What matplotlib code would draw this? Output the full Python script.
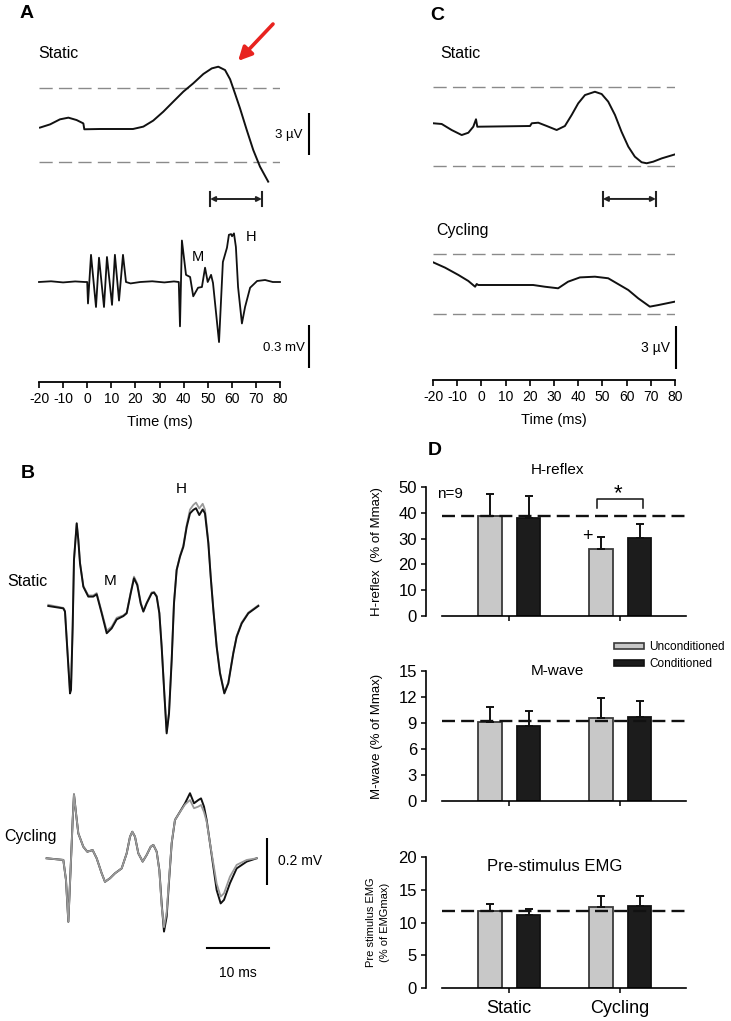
import numpy as np
import matplotlib
matplotlib.use("Agg")
import matplotlib.pyplot as plt
from matplotlib.patches import Patch

plt.rcParams['font.family'] = ['Liberation Sans', 'DejaVu Sans']
plt.rcParams['axes.unicode_minus'] = False

# ------------------------------------------------------------
# Data
# ------------------------------------------------------------
# A - static MEP (uV)
a_mep_t = [-19.6, -15.4, -11.3, -7.8, -4.4, -1.6, -1.2, 5.3, 12.2, 19.0, 23.3, 27.4, 31.6,
           35.7, 39.9, 44.0, 48.2, 51.7, 54.4, 57.2, 59.3, 61.3, 63.4, 66.2, 68.9, 71.7, 75.1]
a_mep_uv = [0.1, 0.33, 0.69, 0.81, 0.64, 0.4, -0.02, 0.0, 0.0, 0.0, 0.17, 0.6, 1.24,
            1.95, 2.67, 3.26, 3.93, 4.33, 4.45, 4.21, 3.55, 2.55, 1.48, -0.07, -1.5, -2.69, -3.76]
a_mep_band = [2.9, -2.38]

# A - soleus EMG (mV)
a_emg_t = [-20, -15, -10, -5, -1, 0.0, 0.33, 1.58, 3.65, 4.9, 6.97, 8.2, 10.3, 11.5, 13.2,
           14.85, 16.1, 18, 22, 27, 32, 36, 38.0, 38.5, 39.3, 41.0, 42.7, 44.0, 46.0, 47.6,
           48.9, 50.0, 51.4, 52.2, 54.7, 56.3, 58.0, 58.8, 59.7, 60.1, 60.9, 61.7, 62.6,
           64.2, 65.5, 67.6, 70.5, 73.8, 77, 80]
a_emg_mv = [0, 0.005, -0.003, 0.004, 0, 0, -0.15, 0.19, -0.175, 0.17, -0.175, 0.175, -0.16, 0.19, -0.13,
            0.19, 0.0, -0.01, 0.0, 0.005, -0.003, 0.004, 0.0, -0.31, 0.29, 0.05, 0.035, -0.10, -0.04, -0.035,
            0.10, 0.0, 0.05, -0.007, -0.42, 0.14, 0.24, 0.33, 0.335, 0.32, 0.34, 0.245, -0.035,
            -0.29, -0.175, -0.04, 0.007, 0.014, 0.0, 0.0]

# B - averaged H-reflex traces (mV), black = conditioned, gray = unconditioned
b_static_t = [0.05, 2.47, 2.74, 3.55, 3.71, 3.98, 4.19, 4.63, 4.89, 5.16, 5.7, 6.5, 7.3, 7.85,
              8.66, 9.47, 10.27, 11.08, 12.15, 12.69, 13.34, 13.87, 14.4, 14.95, 15.38, 15.91,
              16.72, 17.1, 17.53, 17.96, 18.33, 18.76, 19.14, 19.52, 19.95, 20.32, 20.75, 21.29,
              21.83, 22.37, 22.9, 23.44, 23.87, 24.4, 24.95, 25.32, 25.86, 26.24, 26.67, 27.2,
              27.74, 28.44, 29.08, 29.89, 30.43, 31.24, 32.31, 33.92]
b_static_black = [0.0, -0.01, -0.024, -0.372, -0.357, -0.088, 0.196, 0.352, 0.281, 0.182, 0.082, 0.04, 0.04, 0.05,
                  -0.031, -0.116, -0.095, -0.057, -0.043, -0.031, 0.054, 0.118, 0.089, 0.011, -0.024, 0.011,
                  0.054, 0.057, 0.04, -0.031, -0.173, -0.372, -0.542, -0.457, -0.23, 0.011, 0.153, 0.21,
                  0.252, 0.337, 0.394, 0.409, 0.416, 0.387, 0.411, 0.394, 0.267, 0.125, -0.017, -0.173,
                  -0.286, -0.372, -0.329, -0.201, -0.131, -0.074, -0.031, 0.0]
b_static_gray = [0.005, -0.008, -0.02, -0.365, -0.35, -0.085, 0.196, 0.35, 0.283, 0.185, 0.085, 0.045, 0.045, 0.055,
                 -0.025, -0.105, -0.088, -0.05, -0.04, -0.028, 0.058, 0.125, 0.095, 0.015, -0.02, 0.014,
                 0.058, 0.06, 0.043, -0.028, -0.17, -0.368, -0.535, -0.452, -0.225, 0.015, 0.155, 0.214,
                 0.258, 0.345, 0.41, 0.43, 0.44, 0.415, 0.435, 0.41, 0.275, 0.128, -0.015, -0.17,
                 -0.282, -0.368, -0.326, -0.198, -0.128, -0.07, -0.028, 0.003]

b_cyc_t = [-0.22, 2.47, 2.9, 3.28, 3.71, 3.98, 4.19, 4.52, 4.89, 5.7, 6.34, 7.2, 7.85, 8.66, 9.19,
           10.0, 10.8, 11.88, 12.69, 13.23, 13.6, 14.03, 14.57, 15.27, 15.91, 16.56, 16.99, 17.53,
           17.96, 18.33, 18.71, 19.14, 19.57, 19.95, 20.48, 21.29, 22.1, 22.9, 23.55, 24.25, 24.68,
           25.16, 25.59, 26.13, 26.67, 27.2, 27.85, 28.39, 29.35, 30.43, 32.05, 33.66]
b_cyc_black = [0.003, -0.004, -0.089, -0.267, -0.004, 0.166, 0.275, 0.194, 0.109, 0.052, 0.031, 0.038, 0.003, -0.061, -0.097,
               -0.082, -0.061, -0.04, 0.024, 0.095, 0.116, 0.095, 0.024, -0.011, 0.017, 0.052, 0.06, 0.031,
               -0.047, -0.189, -0.309, -0.245, -0.075, 0.067, 0.166, 0.201, 0.237, 0.28, 0.237, 0.251, 0.258,
               0.223, 0.166, 0.067, -0.033, -0.132, -0.189, -0.174, -0.103, -0.04, -0.011, 0.003]
b_cyc_gray = [0.003, -0.004, -0.089, -0.267, -0.004, 0.166, 0.275, 0.194, 0.109, 0.052, 0.031, 0.038, 0.003, -0.061, -0.097,
              -0.082, -0.061, -0.04, 0.024, 0.095, 0.116, 0.095, 0.024, -0.011, 0.017, 0.052, 0.06, 0.031,
              -0.05, -0.2, -0.29, -0.225, -0.068, 0.07, 0.166, 0.2, 0.232, 0.251, 0.216, 0.223, 0.23,
              0.2, 0.159, 0.067, -0.019, -0.104, -0.16, -0.146, -0.075, -0.025, -0.004, 0.003]

# C - MEPs (uV)
c_static_t = [-19.9, -16.4, -12.3, -8.14, -5.4, -3.35, -2.23, -1.7, 20.1, 20.8, 23.5, 27.0, 31.1,
              34.5, 37.3, 40.0, 42.8, 46.9, 49.7, 52.4, 55.2, 57.9, 60.7, 63.4, 66.2, 68.3, 71.0, 74.5, 80.0]
c_static_uv = [0.19, 0.14, -0.28, -0.63, -0.47, -0.05, 0.47, -0.05, 0.0, 0.19, 0.23, 0.0, -0.28,
               0.0, 0.77, 1.58, 2.16, 2.39, 2.23, 1.7, 0.77, -0.4, -1.44, -2.14, -2.53, -2.6, -2.49, -2.26, -1.98]
c_static_band = [2.72, -2.79]

c_cyc_t = [-19.9, -15.0, -9.5, -5.4, -2.6, -1.94, -1.3, 21.4, 26.2, 31.7, 35.8, 40.7, 46.9, 52.4,
           60.7, 64.8, 69.6, 73.1, 80.0]
c_cyc_uv = [1.58, 1.21, 0.7, 0.28, -0.12, 0.07, 0.0, 0.0, -0.12, -0.23, 0.23, 0.53, 0.58, 0.47,
            -0.35, -0.93, -1.51, -1.4, -1.16]
c_cyc_band = [2.16, -2.05]

# D - group means and SEM
conditions = ["Static", "Cycling"]
series = ["Unconditioned", "Conditioned"]
h_mean = {"Unconditioned": [38.8, 26.0], "Conditioned": [38.0, 30.2]}
h_err = {"Unconditioned": [8.5, 4.6], "Conditioned": [8.5, 5.5]}
m_mean = {"Unconditioned": [9.1, 9.6], "Conditioned": [8.65, 9.7]}
m_err = {"Unconditioned": [1.7, 2.3], "Conditioned": [1.75, 1.8]}
emg_mean = {"Unconditioned": [11.8, 12.4], "Conditioned": [11.1, 12.5]}
emg_err = {"Unconditioned": [1.0, 1.7], "Conditioned": [0.9, 1.5]}
h_ref, m_ref, emg_ref = 38.8, 9.2, 11.8

# ------------------------------------------------------------
# Figure helpers (pixel layout)
# ------------------------------------------------------------
W, H = 731, 1021
fig = plt.figure(figsize=(W / 100, H / 100), dpi=100)


def px_axes(left, right, top, bottom):
    return fig.add_axes([left / W, 1 - bottom / H, (right - left) / W, (bottom - top) / H])


def ftext(x, y, s, **kw):
    fig.text(x / W, 1 - y / H, s, **kw)


def ylim_px(base, scale, top, bottom):
    return ((base - bottom) / scale, (base - top) / scale)


def time_axis(ax):
    for side in ("top", "right", "left"):
        ax.spines[side].set_visible(False)
    ax.spines["bottom"].set_linewidth(1.3)
    ax.set_yticks([])
    ax.set_xticks(np.arange(-20, 81, 10))
    ax.tick_params(axis="x", length=4, width=1.2, labelsize=10, pad=3, direction="out")
    ax.set_xlabel("Time (ms)", fontsize=10.5, labelpad=7)
    ax.patch.set_visible(False)


def interval(ax, t0, t1, y):
    ax.annotate("", xy=(t0, y), xytext=(t1, y),
                arrowprops=dict(arrowstyle="<|-|>", color="#222222", lw=1.4, mutation_scale=7,
                                shrinkA=0, shrinkB=0), annotation_clip=False)
    for t in (t0, t1):
        ax.plot([t, t], [y - 0.5, y + 0.5], color="#222222", lw=1.5, clip_on=False)


def vbar(ax, x, y0, y1):
    ax.plot([x, x], [y0, y1], color="black", lw=1.5, clip_on=False, solid_capstyle="butt")


grey_dash = dict(color="#8a8a8a", lw=1.0, linestyle=(0, (9.5, 4.5)))

# ------------------------------------------------------------
# Panel A
# ------------------------------------------------------------
axA1 = px_axes(39, 280, 10, 215)
axA1.set_xlim(-20, 80)
axA1.set_ylim(*ylim_px(129, 14, 10, 215))
axA1.axis("off")
for lvl in a_mep_band:
    axA1.plot([-20, 80.5], [lvl, lvl], **grey_dash)
axA1.plot(a_mep_t, a_mep_uv, color="#111111", lw=1.4)
interval(axA1, 51.0, 72.5, -5.0)
vbar(axA1, 92, -1.85, 1.15)
axA1.text(89.3, -0.4, "3 \u00b5V", fontsize=9.5, ha="right", va="center")
axA1.annotate("", xy=(62.6, 4.86), xytext=(77.1, 7.5),
              arrowprops=dict(arrowstyle="-|>", color="#e8231f", lw=2.6, mutation_scale=20,
                              shrinkA=0, shrinkB=0), annotation_clip=False)

axA2 = px_axes(39, 280, 225, 382)
axA2.set_xlim(-20, 80)
axA2.set_ylim(*ylim_px(282, 143, 225, 382))
time_axis(axA2)
axA2.plot(a_emg_t, a_emg_mv, color="#111111", lw=1.3, clip_on=False)
vbar(axA2, 92, -0.60, -0.30)
axA2.text(90.3, -0.46, "0.3 mV", fontsize=9.5, ha="right", va="center")
axA2.text(45.8, 0.175, "M", fontsize=10.5, ha="center", va="center")
axA2.text(68.0, 0.315, "H", fontsize=10.5, ha="center", va="center")

ftext(38, 53, "Static", fontsize=11.5, ha="left", va="center")
ftext(27, 13, "A", fontsize=14, fontweight="bold", ha="center", va="center")

# ------------------------------------------------------------
# Panel C
# ------------------------------------------------------------
axC1 = px_axes(433, 675, 10, 215)
axC1.set_xlim(-20, 80)
axC1.set_ylim(*ylim_px(126, 14.33, 10, 215))
axC1.axis("off")
for lvl in c_static_band:
    axC1.plot([-20, 80], [lvl, lvl], **grey_dash)
axC1.plot(c_static_t, c_static_uv, color="#111111", lw=1.4)
interval(axC1, 50.2, 72.1, -5.09)

axC2 = px_axes(433, 675, 222, 380)
axC2.set_xlim(-20, 80)
axC2.set_ylim(*ylim_px(285, 14.33, 222, 380))
time_axis(axC2)
for lvl in c_cyc_band:
    axC2.plot([-20, 80], [lvl, lvl], **grey_dash)
axC2.plot(c_cyc_t, c_cyc_uv, color="#111111", lw=1.4)
vbar(axC2, 80.4, -5.86, -2.86)
axC2.text(77.9, -4.4, "3 \u00b5V", fontsize=10, ha="right", va="center")

ftext(440, 53, "Static", fontsize=11.5, ha="left", va="center")
ftext(436, 231, "Cycling", fontsize=11.5, ha="left", va="center")
ftext(437, 15, "C", fontsize=14, fontweight="bold", ha="center", va="center")

# ------------------------------------------------------------
# Panel B
# ------------------------------------------------------------
b_xlim = ((0 - 48) / 6.2, (300 - 48) / 6.2)
axB1 = px_axes(0, 300, 480, 760)
axB1.set_xlim(*b_xlim)
axB1.set_ylim(*ylim_px(606, 235, 480, 760))
axB1.axis("off")
axB1.plot(b_static_t, b_static_gray, color="#999999", lw=1.3, solid_joinstyle="round")
axB1.plot(b_static_t, b_static_black, color="#111111", lw=1.4, solid_joinstyle="round")

axB2 = px_axes(0, 300, 770, 1000)
axB2.set_xlim(*b_xlim)
axB2.set_ylim(*ylim_px(859, 235, 770, 1000))
axB2.axis("off")
axB2.plot(b_cyc_t, b_cyc_black, color="#111111", lw=1.4, solid_joinstyle="round")
axB2.plot(b_cyc_t, b_cyc_gray, color="#999999", lw=1.3, solid_joinstyle="round")
vbar(axB2, 35.3, -0.111, 0.089)
axB2.text(37.1, -0.01, "0.2 mV", fontsize=10, ha="left", va="center")
axB2.plot([25.6, 35.6], [-0.379, -0.379], color="black", lw=1.5, clip_on=False)
axB2.text(30.6, -0.485, "10 ms", fontsize=10, ha="center", va="center")

ftext(7, 582, "Static", fontsize=11.5, ha="left", va="center")
ftext(4, 836, "Cycling", fontsize=11.5, ha="left", va="center")
ftext(110, 581, "M", fontsize=11, ha="center", va="center")
ftext(181, 489, "H", fontsize=11, ha="center", va="center")
ftext(28, 474, "B", fontsize=14, fontweight="bold", ha="center", va="center")

# ------------------------------------------------------------
# Panel D
# ------------------------------------------------------------
colors = {"Unconditioned": "#c8c8c8", "Conditioned": "#1c1c1c"}
edges = {"Unconditioned": "#3a3a3a", "Conditioned": "#111111"}
offsets = {"Unconditioned": -0.172, "Conditioned": 0.176}
x = np.arange(len(conditions))
d_xlim = ((426 - 509) / 111, (686 - 509) / 111)
axis_start = (442 - 509) / 111


def bar_panel(ax, means, errs, ref, ymax, step, ylabel, label_fs=9.5, label_x=-0.165):
    for s in series:
        ax.bar(x + offsets[s], means[s], width=0.21, color=colors[s], edgecolor=edges[s],
               linewidth=1.3, zorder=2)
        ax.errorbar(x + offsets[s], means[s], yerr=[np.zeros(len(x)), errs[s]], fmt="none",
                    ecolor="#111111", elinewidth=1.4, capsize=3.2, capthick=1.4, zorder=3)
    ax.plot([axis_start, d_xlim[1]], [ref, ref], color="#111111", lw=1.7,
            linestyle=(0, (5.5, 2.6)), zorder=4)
    ax.set_xlim(*d_xlim)
    ax.set_ylim(0, ymax)
    ax.set_yticks(np.arange(0, ymax + 0.1, step))
    ax.set_xticks(x)
    ax.set_xticklabels([])
    ax.spines["top"].set_visible(False)
    ax.spines["right"].set_visible(False)
    ax.spines["bottom"].set_bounds(axis_start, d_xlim[1])
    for side in ("left", "bottom"):
        ax.spines[side].set_linewidth(1.2)
    ax.tick_params(axis="y", length=3.5, width=1.1, labelsize=12, pad=3)
    ax.tick_params(axis="x", length=3.5, width=1.1, labelsize=13, pad=5)
    ax.set_ylabel(ylabel, fontsize=label_fs)
    ax.yaxis.set_label_coords(label_x, 0.5)
    ax.patch.set_visible(False)


axH = px_axes(426, 686, 487, 616)
bar_panel(axH, h_mean, h_err, h_ref, 50, 10, "H-reflex  (% of Mmax)")
axH.text(0.504, 1.13, "H-reflex", transform=axH.transAxes, fontsize=11, ha="center", va="center")
axH.text(-0.649, 47.3, "n=9", fontsize=11, ha="left", va="center")
axH.text(0.703, 30.8, "+", fontsize=13, ha="center", va="center")
axH.plot([0.793, 0.793, 1.207, 1.207], [41.9, 45.3, 45.3, 41.9], color="#111111", lw=1.1, clip_on=False)
axH.text(0.985, 47.5, "*", fontsize=16, ha="center", va="center", clip_on=False)

axM = px_axes(426, 686, 671, 801)
bar_panel(axM, m_mean, m_err, m_ref, 15, 3, "M-wave (% of Mmax)")
axM.text(0.504, 1.0, "M-wave", transform=axM.transAxes, fontsize=11, ha="center", va="center")

axE = px_axes(426, 686, 857, 988)
bar_panel(axE, emg_mean, emg_err, emg_ref, 20, 5, "Pre stimulus EMG\n(% of EMGmax)",
          label_fs=8, label_x=-0.14)
axE.yaxis.get_label().set_linespacing(1.5)
axE.set_xticklabels(conditions)
axE.text(0.496, 0.924, "Pre-stimulus EMG", transform=axE.transAxes, fontsize=12, ha="center", va="center")

handles = [Patch(facecolor=colors[s], edgecolor=edges[s], linewidth=1.2) for s in series]
fig.legend(handles, series, loc="upper left", bbox_to_anchor=(614 / W, 1 - 641 / H),
           frameon=False, fontsize=8.5, handlelength=2.5, handleheight=0.35,
           handletextpad=0.5, labelspacing=0.45, borderpad=0, borderaxespad=0)

ftext(435, 450, "D", fontsize=14, fontweight="bold", ha="center", va="center")

fig.savefig("out.png", dpi=100)
